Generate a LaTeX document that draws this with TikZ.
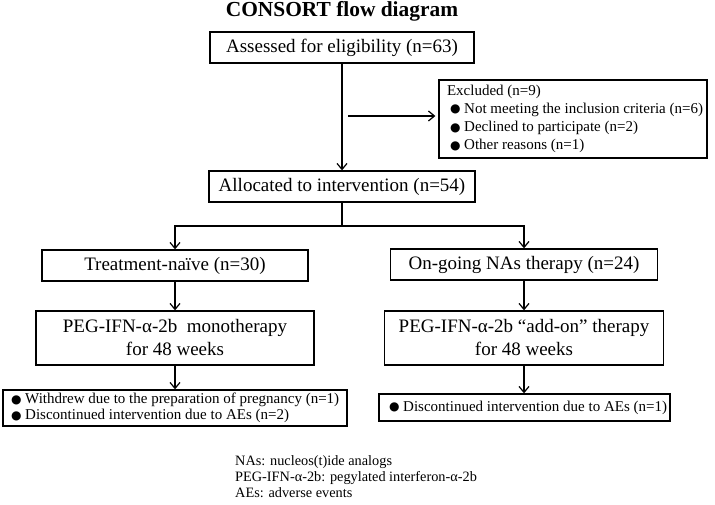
\documentclass[tikz,border=0pt]{standalone}
\usepackage{fontspec}
\setmainfont{Liberation Serif}
\newfontfamily\symfont{DejaVu Sans}
\usetikzlibrary{arrows.meta}
\newcommand\bul{\raisebox{0.6pt}{\fontsize{12}{12}\selectfont\symfont ●}}
\begin{document}
\begin{tikzpicture}[x=1pt,y=-1pt,
  every node/.style={inner sep=0pt},
  box/.style={draw=black,line width=1.3pt,fill=white},
  big/.style={font=\fontsize{19}{23}\selectfont},
  arr/.style={line width=1.3pt,-{Straight Barb[length=6pt,width=10pt,line width=1.2pt]}},
  ln/.style={line width=1.3pt}]
\useasboundingbox (0,0) rectangle (715,505);
\fill[white] (0,0) rectangle (715,505);

\node[font=\fontsize{21.4}{24}\selectfont\bfseries] (title) at (342,11) {CONSORT flow diagram};

\node[box,big,minimum width=264pt,minimum height=31pt] (b1) at (342,47.5) {Assessed for eligibility (n=63)};

\node[box,font=\fontsize{15}{18.2}\selectfont,minimum width=268pt,minimum height=78pt,text width=258pt,align=flush left,inner xsep=5pt] (excl) at (573,119)
  {\mbox{\hspace*{3pt}Excluded (n=9)}\\
   \mbox{\hspace*{6pt}\bul\ Not meeting the inclusion criteria (n=6)}\\
   \mbox{\hspace*{6pt}\bul\ Declined to participate (n=2)}\\
   \mbox{\hspace*{6pt}\bul\ Other reasons (n=1)}};

\node[box,big,minimum width=266pt,minimum height=31pt] (alloc) at (342,186.5) {Allocated to intervention (n=54)};

\node[box,big,minimum width=266pt,minimum height=31pt] (treat) at (175,265.5) {Treatment-naïve (n=30)};
\node[box,big,minimum width=267pt,minimum height=31pt] (ongo) at (524,264.5) {On-going NAs therapy (n=24)};

\node[box,big,minimum width=278pt,minimum height=54pt,align=center] (mono) at (175,338) {PEG-IFN-α-2b\ \ monotherapy\\for 48 weeks};
\node[box,big,minimum width=279pt,minimum height=54pt,align=center] (addon) at (524,338) {PEG-IFN-α-2b “add-on” therapy\\for 48 weeks};

\node[box,font=\fontsize{15}{16}\selectfont,minimum width=344pt,minimum height=36pt,text width=334pt,align=flush left,inner xsep=5pt] (lb) at (175,408)
  {\mbox{\hspace*{3pt}\bul\ Withdrew due to the preparation of pregnancy (n=1)}\\
   \mbox{\hspace*{3pt}\bul\ Discontinued intervention due to AEs (n=2)}};
\node[box,font=\fontsize{15}{16}\selectfont,minimum width=291pt,minimum height=27pt,text width=281pt,align=flush left,inner xsep=5pt] (rb) at (524.5,407.5)
  {\mbox{\hspace*{5pt}\bul\ Discontinued intervention due to AEs (n=1)}};

\node[font=\fontsize{14.3}{16}\selectfont,align=left,anchor=west] (notes) at (235,477)
  {NAs: nucleos(t)ide analogs\\
   PEG-IFN-α-2b: pegylated interferon-α-2b\\
   AEs: adverse events};

\draw[arr] (b1.south) -- (alloc.north);
\coordinate (ex0) at (348,116);
\draw[arr,shorten >=3pt] (ex0) -- (excl.west |- ex0);
\coordinate (br) at (342,226);
\draw[ln] (alloc.south) -- (br);
\draw[arr] (br) -| (treat.north);
\draw[arr] (br) -| (ongo.north);
\draw[arr] (treat.south) -- (mono.north);
\draw[arr] (ongo.south) -- (addon.north);
\draw[arr] (mono.south) -- (lb.north);
\draw[arr] (addon.south) -- (addon.south |- rb.north);
\end{tikzpicture}
\end{document}
